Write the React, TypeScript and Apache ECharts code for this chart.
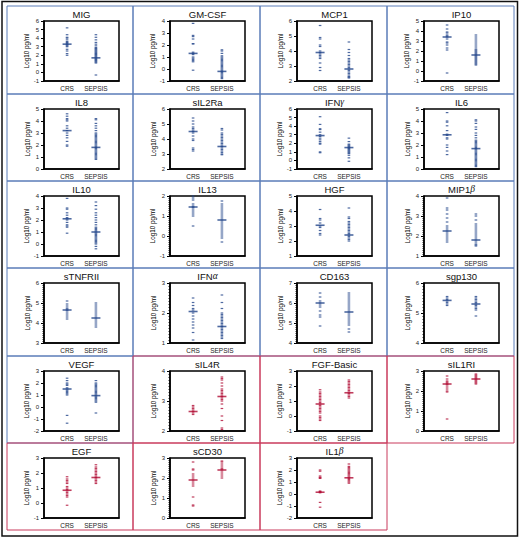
import React, { useEffect, useRef } from 'react';
import * as echarts from 'echarts';

// ---------- data ----------
const panelNames = [
  'MIG', 'GM-CSF', 'MCP1', 'IP10',
  'IL8', 'sIL2Ra', 'IFNγ', 'IL6',
  'IL10', 'IL13', 'HGF', 'MIP1β',
  'sTNFRII', 'IFNα', 'CD163', 'sgp130',
  'VEGF', 'sIL4R', 'FGF-Basic', 'sIL1RI',
  'EGF', 'sCD30', 'IL1β',
];
const panelGroups = [
  'up', 'up', 'up', 'up',
  'up', 'up', 'up', 'up',
  'up', 'up', 'up', 'up',
  'up', 'up', 'up', 'up',
  'up', 'down', 'down', 'down',
  'down', 'down', 'down',
];
const yMins = [-1, -1, 2, -1, 0, 2, -1, 0, -1, -1, 1, 1, 3, 1, 4, 4, -2, 2, -1, 0, -1, 0, -2];
const yMaxs = [6, 4, 6, 5, 5, 6, 6, 5, 4, 2, 5, 4, 6, 3, 7, 6, 3, 4, 3, 3, 3, 3, 3];
const categoryLabels = ['CRS', 'SEPSIS'];
const yAxisName = 'Log10 pg/ml';

const crsValues = [
  [5.2, 4.4, 4.1, 4.0, 3.8, 3.6, 3.5, 3.4, 3.3, 3.2, 3.1, 3.0, 2.7, 2.5, 2.2, 2.0],
  [3.8, 2.8, 2.7, 2.5, 2.1, 2.1, 1.4, 1.3, 1.2, 1.0, 0.9, 0.8, 0.7, 0.6, -0.1],
  [5.7, 4.9, 4.8, 4.4, 4.3, 4.0, 3.9, 3.8, 3.7, 3.6, 3.5, 3.2, 2.9, 2.7],
  [4.6, 4.2, 3.9, 3.8, 3.6, 3.5, 3.4, 3.2, 2.9, 2.8, 2.6, 2.3, 2.1, -0.2],
  [4.6, 4.4, 4.2, 4.1, 4.0, 3.6, 3.4, 3.2, 3.0, 2.8, 2.6, 2.3, 2.0, 1.9],
  [5.4, 5.2, 5.0, 4.8, 4.7, 4.6, 4.5, 4.4, 4.2, 4.0, 3.9, 3.4, 3.3, 3.2],
  [5.1, 4.2, 3.7, 3.6, 3.3, 3.0, 2.8, 2.6, 2.4, 2.2, 2.0, 1.9, 1.0, 0.9],
  [4.7, 4.0, 3.9, 3.6, 3.2, 2.9, 2.8, 2.6, 2.5, 2.0, 1.8, 1.5, 1.2],
  [3.8, 3.0, 2.9, 2.6, 2.4, 2.2, 2.1, 2.0, 1.8, 1.6, 1.5, 1.4, 0.9],
  [2.0, 1.9, 1.8, 1.6, 1.5, 1.45, 1.4, 1.3, 1.2, 1.1, 1.0, 0.5],
  [4.1, 3.5, 3.4, 3.2, 3.0, 2.9, 2.7, 2.5, 2.4],
  [3.9, 3.4, 3.3, 3.1, 2.9, 2.7, 2.5, 2.4, 2.3, 2.2, 2.1, 2.0, 1.9, 1.8, 1.7],
  [5.1, 4.95, 4.85, 4.75, 4.7, 4.65, 4.6, 4.5, 4.4, 4.3, 4.2],
  [2.5, 2.35, 2.25, 2.15, 2.1, 2.0, 1.9, 1.8, 1.7, 1.6, 1.5, 1.35, 1.1],
  [6.5, 6.3, 6.1, 6.0, 5.9, 5.8, 5.6, 5.4, 5.3, 4.85],
  [5.55, 5.5, 5.45, 5.4, 5.35, 5.3, 5.25],
  [2.4, 2.2, 2.0, 1.9, 1.8, 1.6, 1.5, 1.4, 1.3, 1.2, 1.1, 1.0, -0.7, -1.35],
  [2.85, 2.8, 2.75, 2.7, 2.65, 2.6, 2.55],
  [1.75, 1.6, 1.5, 1.4, 1.3, 1.2, 1.1, 1.0, 0.9, 0.8, 0.7, 0.6, 0.5, 0.4, 0.3, 0.2, 0.0, -0.1, -0.2, -0.3],
  [2.75, 2.6, 2.5, 2.45, 2.4, 2.35, 2.3, 2.2, 2.1, 2.0, 1.95, 0.6],
  [1.75, 1.6, 1.5, 1.4, 1.3, 1.1, 1.0, 0.9, 0.8, 0.7, 0.6, 0.5, 0.4, -0.15],
  [2.8, 2.45, 2.4, 2.2, 2.1, 2.0, 1.9, 1.8, 1.7, 1.6, 1.05, 0.65, 0.6],
  [2.0, 1.9, 1.5, 1.4, 1.35, 1.3, 0.25, 0.2, 0.15, 0.1, -0.7, -1.1],
];
const sepsisValues = [
  [4.4, 4.1, 3.8, 3.5, 3.3, 3.1, 2.9, 2.8, 2.7, 2.6, 2.5, 2.4, 2.3, 2.2, 2.1, 2.0, 1.9, 1.8, 1.7, 1.6, 1.5, 1.4, 1.3, 1.2, 1.1, -0.3],
  [1.6, 1.5, 1.3, 1.1, 1.0, 0.9, 0.8, 0.7, 0.6, 0.5, 0.4, 0.3, 0.2, 0.1, 0.0, -0.1, -0.2, -0.3, -0.4, -0.5, -0.6, -0.7, -0.8],
  [4.6, 4.1, 3.9, 3.7, 3.5, 3.4, 3.3, 3.2, 3.1, 3.0, 2.9, 2.8, 2.7, 2.6, 2.5, 2.4, 2.3, 2.25, 2.2],
  [3.6, 3.4, 3.2, 3.0, 2.8, 2.6, 2.4, 2.2, 2.1, 2.0, 1.9, 1.8, 1.7, 1.6, 1.5, 1.4, 1.3, 1.2, 1.1, 1.0, 0.9, 0.8, 0.7, 0.6],
  [4.2, 4.1, 3.8, 3.6, 3.4, 3.2, 3.0, 2.9, 2.8, 2.7, 2.6, 2.5, 2.4, 2.3, 2.2, 2.1, 2.0, 1.9, 1.8, 1.7, 1.6, 1.5, 1.4, 1.3, 1.2, 1.1, 1.0, 0.9, 0.8],
  [4.7, 4.6, 4.4, 4.3, 4.2, 4.1, 4.0, 3.9, 3.8, 3.7, 3.6, 3.5, 3.4, 3.3, 3.2, 3.1, 3.0, 2.95],
  [2.6, 2.2, 1.9, 1.8, 1.7, 1.6, 1.5, 1.4, 1.3, 1.2, 1.1, 1.0, 0.9, 0.8, 0.6, 0.3, -0.1],
  [4.1, 4.0, 3.8, 3.5, 3.3, 3.0, 2.8, 2.6, 2.4, 2.3, 2.2, 2.1, 2.0, 1.9, 1.8, 1.7, 1.6, 1.5, 1.4, 1.3, 1.2, 1.1, 1.0, 0.9, 0.8, 0.7, 0.6, 0.5, 0.4, 0.3, 0.2],
  [3.5, 3.2, 2.9, 2.6, 2.4, 2.2, 2.0, 1.8, 1.6, 1.4, 1.3, 1.2, 1.1, 1.0, 0.9, 0.8, 0.7, 0.6, 0.5, 0.4, 0.3, 0.2, 0.1, 0.0, -0.2, -0.4],
  [1.75, 1.6, 1.5, 1.4, 1.3, 1.2, 1.1, 1.0, 0.9, 0.8, 0.7, 0.6, 0.5, 0.4, 0.3, 0.2, 0.1, 0.0, -0.1, -0.3],
  [4.2, 3.6, 3.5, 3.3, 3.2, 3.1, 3.0, 2.9, 2.8, 2.7, 2.6, 2.5, 2.4, 2.3, 2.2, 2.1, 2.0],
  [3.1, 3.0, 2.8, 2.6, 2.5, 2.4, 2.3, 2.2, 2.1, 2.0, 1.9, 1.8, 1.7, 1.6, 1.55, 1.5],
  [5.0, 4.9, 4.8, 4.7, 4.6, 4.5, 4.4, 4.3, 4.2, 4.1, 4.0, 3.9, 3.8],
  [2.6, 2.35, 2.15, 2.0, 1.95, 1.9, 1.85, 1.8, 1.75, 1.7, 1.65, 1.6, 1.55, 1.5, 1.45, 1.4, 1.35, 1.3, 1.25, 1.2, 1.15],
  [6.5, 6.4, 6.3, 6.2, 6.1, 6.0, 5.9, 5.8, 5.7, 5.6, 5.5, 5.4, 5.3, 5.2, 5.1, 5.0, 4.9, 4.7, 4.55],
  [5.55, 5.5, 5.45, 5.4, 5.35, 5.3, 5.25, 5.2, 5.15, 5.1, 4.9],
  [2.2, 2.0, 1.9, 1.8, 1.7, 1.6, 1.5, 1.4, 1.3, 1.2, 1.1, 1.0, 0.9, 0.8, 0.7, 0.6, 0.5, 0.4, -0.5],
  [3.8, 3.75, 3.7, 3.6, 3.5, 3.4, 3.35, 3.3, 3.25, 3.2, 3.15, 3.1, 3.05, 3.0, 2.9, 2.75, 2.5, 2.35, 2.1, 2.05],
  [2.4, 2.3, 2.2, 2.1, 2.0, 1.9, 1.8, 1.7, 1.6, 1.5, 1.4, 1.3, 1.2],
  [2.85, 2.8, 2.75, 2.7, 2.65, 2.6, 2.55, 2.5, 2.45, 2.4, 2.35],
  [2.55, 2.4, 2.3, 2.2, 2.1, 2.0, 1.9, 1.8, 1.7, 1.6, 1.5, 1.4, 1.3],
  [2.85, 2.8, 2.7, 2.6, 2.5, 2.45, 2.4, 2.3, 2.2, 2.1, 2.0],
  [2.5, 2.3, 2.2, 2.1, 2.0, 1.9, 1.8, 1.7, 1.6, 1.5, 1.4, 1.3, 1.2, 1.1, 1.0, 0.9],
];
const crsMedians = [3.3, 1.3, 3.9, 3.4, 3.2, 4.5, 2.9, 2.85, 2.1, 1.45, 3.05, 2.25, 4.65, 2.05, 6.0, 5.42, 1.5, 2.65, 0.8, 2.35, 0.85, 1.9, 0.15];
const sepsisMedians = [1.7, -0.2, 2.8, 1.6, 1.8, 3.5, 1.5, 1.7, 1.0, 0.8, 2.4, 1.8, 4.25, 1.55, 5.55, 5.3, 0.95, 3.15, 1.55, 2.6, 1.7, 2.4, 1.35];

// ---------- layout / style ----------
const colLefts = [7, 133, 260, 387, 514];
const rowTops = [6, 94, 181, 268, 356, 443, 530];
const FONT = '"Liberation Sans", Arial, sans-serif';
const groupStyle: Record<string, { border: string; point: string }> = {
  up: { border: '#5b7cb8', point: '#22458a' },
  down: { border: '#c93a5c', point: '#b00c34' },
};

function richTitle(name: string) {
  return name.replace(/([αβγ])/g, '{g|$1}');
}

function buildOption() {
  const grids: any[] = [];
  const xAxes: any[] = [];
  const yAxes: any[] = [];
  const series: any[] = [];
  const borderBlue: any[] = [];
  const borderRed: any[] = [];
  const titles: any[] = [];

  panelNames.forEach((name, i) => {
    const c = i % 4;
    const r = Math.floor(i / 4);
    const pl = colLefts[c];
    const pt = rowTops[r];
    const st = groupStyle[panelGroups[i]];
    const gl = pl + 37;
    const gt = pt + 15;
    const gw = 75;
    const gh = 60;
    const range = yMaxs[i] - yMins[i];

    grids.push({
      left: gl, top: gt, width: gw, height: gh,
      show: true, borderColor: '#000', borderWidth: 1.5, backgroundColor: '#fff',
    });
    xAxes.push({
      gridIndex: i, type: 'value', min: 0.2, max: 2.8,
      axisLine: { show: true, onZero: false, lineStyle: { color: '#000', width: 1.5 } },
      axisTick: { show: false },
      splitLine: { show: false },
      axisLabel: {
        customValues: [1, 2],
        formatter: (v: number) => (Math.abs(v - 1) < 1e-6 ? categoryLabels[0] : Math.abs(v - 2) < 1e-6 ? categoryLabels[1] : ''),
        fontSize: 6.5, color: '#222', margin: 4, fontFamily: FONT,
      },
    });
    yAxes.push({
      gridIndex: i, type: 'value', min: yMins[i], max: yMaxs[i], interval: 1,
      axisLine: { show: true, onZero: false, lineStyle: { color: '#000', width: 1.5 } },
      axisTick: { show: true, length: 3, lineStyle: { color: '#000', width: 1 } },
      minorTick: { show: range <= 3, splitNumber: 10, length: 1.5, lineStyle: { color: '#000', width: 0.8 } },
      splitLine: { show: false },
      axisLabel: { fontSize: 6, color: '#222', margin: 5, fontFamily: FONT },
      name: yAxisName, nameLocation: 'middle', nameGap: 14, nameRotate: 90,
      nameTextStyle: { fontSize: 6.3, color: '#000', fontFamily: FONT },
    });
    const pts: number[][] = [];
    crsValues[i].forEach((v) => pts.push([1, v]));
    sepsisValues[i].forEach((v) => pts.push([2, v]));
    series.push({
      type: 'scatter', xAxisIndex: i, yAxisIndex: i, symbol: 'rect', symbolSize: [2.6, 1.2],
      itemStyle: { color: st.point }, data: pts, silent: true,
    });
    series.push({
      type: 'scatter', xAxisIndex: i, yAxisIndex: i, symbol: 'rect', symbolSize: [9, 1.6],
      itemStyle: { color: st.point }, data: [[1, crsMedians[i]], [2, sepsisMedians[i]]], silent: true, z: 3,
    });

    const rect = {
      type: 'rect',
      shape: { x: pl, y: pt, width: colLefts[c + 1] - pl, height: rowTops[r + 1] - pt },
      style: { fill: 'none', stroke: st.border, lineWidth: 1 },
      silent: true,
    };
    if (panelGroups[i] === 'up') borderBlue.push(rect); else borderRed.push(rect);

    titles.push({
      type: 'text', x: gl + gw / 2, y: pt + 8, silent: true,
      style: {
        text: richTitle(name), align: 'center', verticalAlign: 'middle',
        fontSize: 9.5, fill: '#111', fontFamily: FONT,
        rich: { g: { fontSize: 9.5, fontStyle: 'italic', fontFamily: '"Liberation Serif", serif', fill: '#111' } },
      },
    });
  });

  const graphics = [
    ...borderBlue,
    ...borderRed,
    ...titles,
    {
      type: 'rect', silent: true,
      shape: { x: 2, y: 1.5, width: 515.5, height: 534.5 },
      style: { fill: 'none', stroke: '#111', lineWidth: 1.5 },
    },
  ];

  return {
    animation: false,
    backgroundColor: '#fff',
    grid: grids,
    xAxis: xAxes,
    yAxis: yAxes,
    series,
    graphic: graphics,
  };
}

export default function App() {
  const ref = useRef<HTMLDivElement>(null);
  useEffect(() => {
    if (!ref.current) return;
    const chart = echarts.init(ref.current, undefined, { renderer: 'svg' });
    chart.setOption(buildOption() as any);
    return () => chart.dispose();
  }, []);
  return (
    <div
      ref={ref}
      style={{ position: 'absolute', left: 0, top: 0, width: 520, height: 538, background: '#fff' }}
    />
  );
}
